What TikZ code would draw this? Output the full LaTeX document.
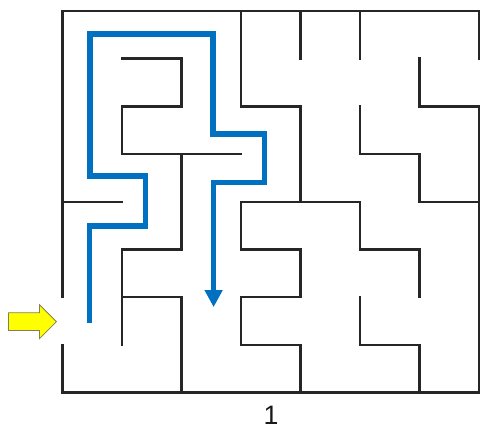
\documentclass[tikz,border=0pt]{standalone}
\usepackage{fontspec}
\setsansfont{Liberation Sans}
\usetikzlibrary{arrows.meta}
\usetikzlibrary{shapes, positioning}
\definecolor{pathblue}{RGB}{0,112,192}
\definecolor{arrowyellow}{RGB}{255,255,0}
\tikzset{
    wall/.style={draw=black!85, line width=1.8pt, line cap=rect},
    route/.style={draw=pathblue, line width=4pt, -{Triangle[length=12.75pt, width=12.75pt]}},
    entry/.style={single arrow, draw=black!55!yellow, fill=arrowyellow, line width=0.6pt,
        minimum height=36pt, inner sep=6.375pt, single arrow head extend=6pt},
    mazeno/.style={font=\sffamily\fontsize{20}{24}\selectfont, text=black!90, inner sep=1pt}
}

\begin{document}
\begin{tikzpicture}[x=44.625pt, y=35.77pt]
    \useasboundingbox (-1.050,-0.786) rectangle (7.034,8.230);
    % outer frame
    \draw[wall] (0,2) -- (0,8) -- (7,8) -- (7,7);
    \draw[wall] (7,6) -- (7,0) -- (0,0) -- (0,1);
    % inner walls
    \draw[wall] (1,7) -- (2,7) -- (2,6) -- (1,6) -- (1,5) -- (3,5);
    \draw[wall] (2,5) -- (2,3) -- (1,3) -- (1,1);
    \draw[wall] (1,2) -- (2,2) -- (2,0);
    \draw[wall] (0,4) -- (1,4);
    \draw[wall] (3,8) -- (3,6) -- (4,6) -- (4,4);
    \draw[wall] (4,2) -- (4,3) -- (3,3) -- (3,4) -- (5,4) -- (5,3) -- (6,3) -- (6,2);
    \draw[wall] (4,0) -- (4,1) -- (3,1) -- (3,2) -- (4,2);
    \draw[wall] (5,2) -- (5,1) -- (6,1) -- (6,0);
    \draw[wall] (4,8) -- (4,7);
    \draw[wall] (5,8) -- (5,7);
    \draw[wall] (6,7) -- (6,6) -- (7,6);
    \draw[wall] (5,6) -- (5,5) -- (6,5) -- (6,4) -- (7,4);
    % solution route
    \coordinate (p0) at (0.45,1.46);
    \coordinate (p1) at (0.45,3.49);
    \coordinate (p2) at (1.39,3.49);
    \coordinate (p3) at (1.39,4.54);
    \coordinate (p4) at (0.46,4.54);
    \coordinate (p5) at (0.46,7.52);
    \coordinate (p6) at (2.53,7.52);
    \coordinate (p7) at (2.53,5.42);
    \coordinate (p8) at (3.40,5.42);
    \coordinate (p9) at (3.40,4.41);
    \coordinate (p10) at (2.54,4.41);
    \coordinate (p11) at (2.54,1.79);
    \draw[route, line join=miter] (p0) -- (p1) -- (p2) -- (p3) -- (p4) -- (p5) -- (p6)
        -- (p7) -- (p8) -- (p9) -- (p10) -- (p11);
    % entrance and number
    \node[entry] (start) at (-0.58,1.485) {};
    \node[mazeno] (number) at (3.504,-0.48) {1};
\end{tikzpicture}
\end{document}
